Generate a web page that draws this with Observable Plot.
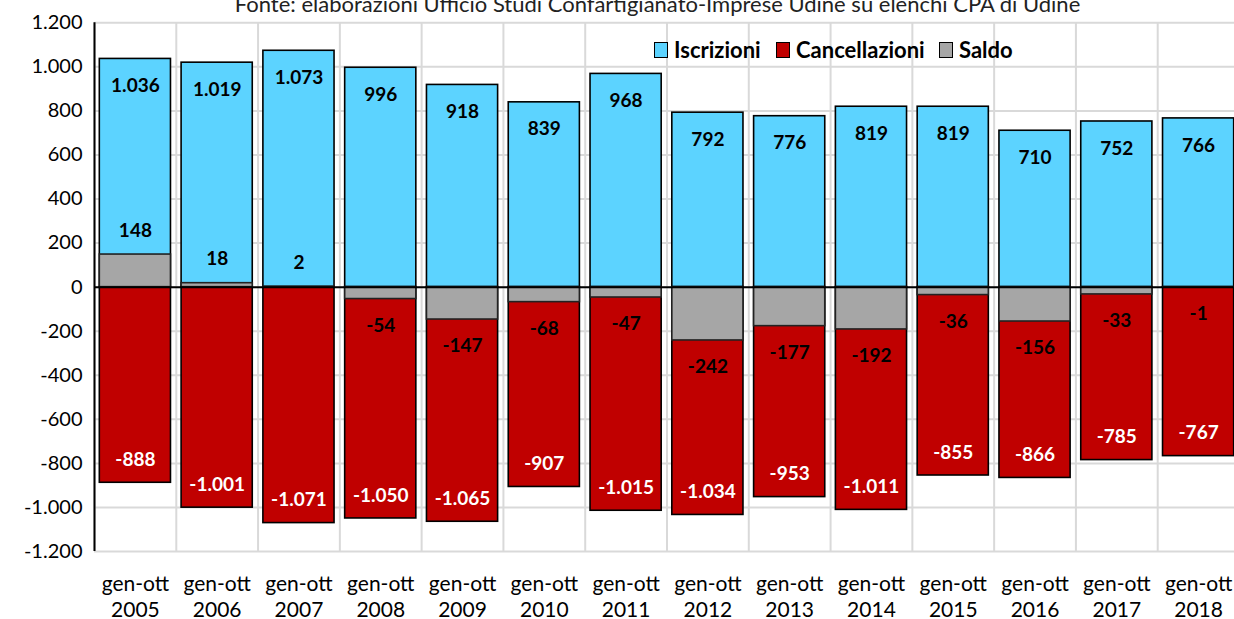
<!DOCTYPE html>
<html>
<head>
<meta charset="utf-8">
<script src="https://cdn.jsdelivr.net/npm/d3@7"></script>
<script src="https://cdn.jsdelivr.net/npm/@observablehq/plot@0.6"></script>
<style>
  html, body { margin: 0; padding: 0; background: #fff; overflow: hidden; }
  #wrap { position: relative; width: 1234px; height: 619px; overflow: hidden; font-family: Lato, "Open Sans", sans-serif; }
  #legend { position: absolute; top: 36px; left: 0; height: 26px; }
  .li { position: absolute; top: 0; display: flex; align-items: center; font-weight: bold; font-size: 22px; color: #000; white-space: nowrap; }
  .sw { width: 12px; height: 14px; border: 1.5px solid #000; margin-right: 6px; box-sizing: content-box; }
</style>
</head>
<body>
<div id="wrap"></div>
<script>
const title = "Fonte: elaborazioni Ufficio Studi Confartigianato-Imprese Udine su elenchi CPA di Udine";
const years = ["2005","2006","2007","2008","2009","2010","2011","2012","2013","2014","2015","2016","2017","2018"];
const categories = years.map(y => "gen-ott\n" + y);
const iscrizioni = [1036, 1019, 1073, 996, 918, 839, 968, 792, 776, 819, 819, 710, 752, 766];
const cancellazioni = [-888, -1001, -1071, -1050, -1065, -907, -1015, -1034, -953, -1011, -855, -866, -785, -767];
const saldo = [148, 18, 2, -54, -147, -68, -47, -242, -177, -192, -36, -156, -33, -1];
const yTicks = [-1200, -1000, -800, -600, -400, -200, 0, 200, 400, 600, 800, 1000, 1200];
const seriesNames = ["Iscrizioni", "Cancellazioni", "Saldo"];
const seriesColors = ["#5CD3FF", "#C00000", "#A6A6A6"];

const it = d3.formatLocale({decimal: ",", thousands: ".", grouping: [3], currency: ["€", ""], minus: "-"});
const fmt = it.format(",d");

const rows = categories.map((c, i) => ({cat: c, isc: iscrizioni[i], canc: cancellazioni[i], saldo: saldo[i]}));

const xRange = [94, 1239];
const step = (xRange[1] - xRange[0]) / categories.length;

const chart = Plot.plot({
  width: 1234,
  height: 619,
  marginLeft: 94,
  marginRight: 0,
  marginTop: 22,
  marginBottom: 68,
  style: {fontFamily: "Lato, 'Open Sans', sans-serif", background: "#fff"},
  x: {type: "band", domain: categories, range: xRange, paddingInner: 0.13, paddingOuter: 0.065, round: false},
  y: {domain: [-1200, 1200], range: [551, 22.3]},
  marks: [
    Plot.gridY(yTicks, {stroke: "#D9D9D9", strokeOpacity: 1, strokeWidth: 2}),
    Plot.ruleX(categories, {x: d => d, y1: -1200, y2: 1200, dx: -step / 2, stroke: "#D9D9D9", strokeWidth: 2}),
    Plot.barY(rows, {x: "cat", y1: 0, y2: "isc", fill: seriesColors[0], stroke: "#000", strokeWidth: 1.6}),
    Plot.barY(rows, {x: "cat", y1: 0, y2: "canc", fill: seriesColors[1], stroke: "#000", strokeWidth: 1.6}),
    Plot.barY(rows, {x: "cat", y1: 0, y2: "saldo", fill: seriesColors[2], stroke: "#222", strokeWidth: 1.6}),
    Plot.ruleY([0], {stroke: "#000", strokeWidth: 2}),
    Plot.ruleX([categories[0]], {x: d => d, y1: -1200, y2: 1200, dx: -step / 2, stroke: "#000", strokeWidth: 2}),
    Plot.axisY(yTicks, {tickSize: 0, tickPadding: 12, fontSize: 20, tickFormat: fmt, fill: "#000"}),
    Plot.axisX({tickSize: 0, tickPadding: 20, fontSize: 21, lineHeight: 1.28, fill: "#000", label: null}),
    Plot.text(rows, {x: "cat", y: "isc", text: d => fmt(d.isc), dy: 27, fontSize: 19, fontWeight: "bold", fill: "#000"}),
    Plot.text(rows, {x: "cat", y: "canc", text: d => fmt(d.canc), dy: -23, fontSize: 19, fontWeight: "bold", fill: "#fff"}),
    Plot.text(rows, {x: "cat", y: "saldo", text: d => fmt(d.saldo), fontSize: 19, fontWeight: "bold", fill: "#000",
      filter: d => d.saldo >= 0, dy: -24}),
    Plot.text(rows, {x: "cat", y: "saldo", text: d => fmt(d.saldo), fontSize: 19, fontWeight: "bold", fill: "#000",
      filter: d => d.saldo < 0, dy: 26.5}),
    Plot.text([title], {frameAnchor: "top", dx: -7, dy: -11, lineAnchor: "bottom", fontSize: 22, fill: "#222"})
  ]
});

const wrap = document.getElementById("wrap");
wrap.appendChild(chart);

const legend = document.createElement("div");
legend.id = "legend";
const legendX = [654, 776, 939];
seriesNames.forEach((name, i) => {
  const item = document.createElement("div");
  item.className = "li";
  item.style.left = legendX[i] + "px";
  const sw = document.createElement("div");
  sw.className = "sw";
  sw.style.background = seriesColors[i];
  const t = document.createElement("span");
  t.textContent = name;
  item.appendChild(sw);
  item.appendChild(t);
  legend.appendChild(item);
});
wrap.appendChild(legend);
</script>
</body>
</html>
